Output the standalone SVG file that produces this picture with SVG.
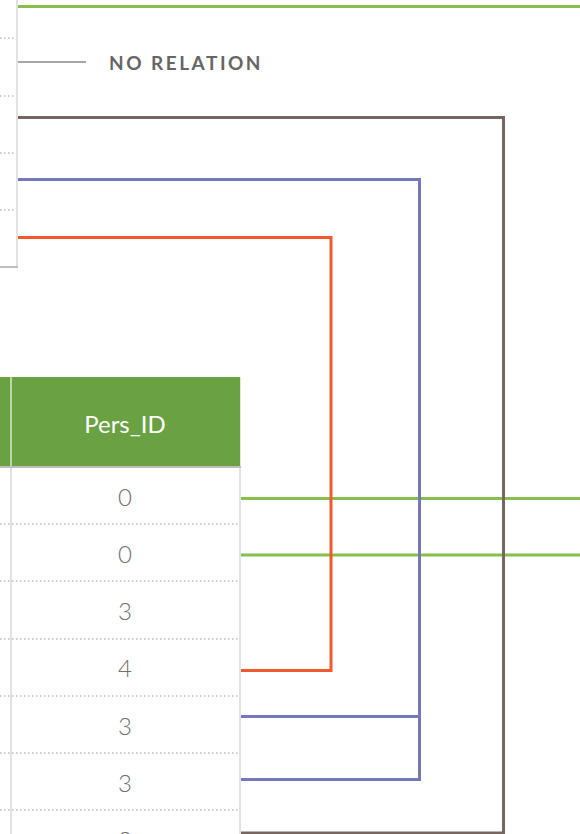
<svg xmlns="http://www.w3.org/2000/svg" width="580" height="834" viewBox="0 0 580 834">
  <style>
    .edge { fill: none; stroke: #e2e2e2; stroke-width: 2; }
    .rule { fill: none; stroke: #bdbdbd; stroke-width: 2; }
    .dots { fill: none; stroke: #9a9a9a; stroke-width: 1; stroke-dasharray: 1.5 2.5; }
    .cell { font-family: Lato, "Open Sans", sans-serif; font-size: 24px; font-weight: 300; fill: #707070; text-anchor: middle; }
    .head { font-family: Lato, "Open Sans", sans-serif; font-size: 24px; font-weight: 400; fill: #ffffff; text-anchor: middle; }
    .legend { font-family: Lato, "Open Sans", sans-serif; font-size: 19px; font-weight: 700; fill: #666666; letter-spacing: 2.5px; }
    .link { fill: none; stroke-width: 3; stroke-linejoin: miter; }
    .green { stroke: #86bf4a; }
    .brown { stroke: #76665f; }
    .blue { stroke: #7777bb; }
    .orange { stroke: #f05a2a; }
  </style>

  <!-- upper table (right edge only visible) -->
  <g id="table-top">
    <line class="edge" x1="17" y1="0" x2="17" y2="267"/>
    <line class="dots" x1="0" y1="38" x2="16" y2="38"/>
    <line class="dots" x1="0" y1="96" x2="16" y2="96"/>
    <line class="dots" x1="0" y1="153" x2="16" y2="153"/>
    <line class="dots" x1="0" y1="210" x2="16" y2="210"/>
    <line class="rule" x1="0" y1="267" x2="18" y2="267"/>
  </g>

  <!-- legend -->
  <g id="legend">
    <line x1="18" y1="62" x2="86" y2="62" stroke="#8a8a8a" stroke-width="1.5"/>
    <text class="legend" x="109" y="70">NO RELATION</text>
  </g>

  <!-- lower table: Pers_ID column -->
  <g id="table-bottom">
    <rect x="0" y="377" width="241" height="90" fill="#6aa142"/>
    <line x1="11" y1="377" x2="11" y2="467" stroke="#d8e8cc" stroke-width="1.5"/>
    <line x1="240.5" y1="377" x2="240.5" y2="467" stroke="#dfe9d6" stroke-width="1"/>
    <line class="rule" x1="0" y1="467" x2="241" y2="467"/>
    <line class="edge" x1="11" y1="468" x2="11" y2="834"/>
    <line class="edge" x1="240" y1="468" x2="240" y2="834"/>
    <text class="head" x="125" y="433">Pers_ID</text>
    <line class="dots" x1="0" y1="524" x2="239" y2="524"/>
    <line class="dots" x1="0" y1="581" x2="239" y2="581"/>
    <line class="dots" x1="0" y1="639" x2="239" y2="639"/>
    <line class="dots" x1="0" y1="696" x2="239" y2="696"/>
    <line class="dots" x1="0" y1="753" x2="239" y2="753"/>
    <line class="dots" x1="0" y1="810" x2="239" y2="810"/>
    <text class="cell" x="125" y="506">0</text>
    <text class="cell" x="125" y="563">0</text>
    <text class="cell" x="125" y="620">3</text>
    <text class="cell" x="125" y="677">4</text>
    <text class="cell" x="125" y="735">3</text>
    <text class="cell" x="125" y="792">3</text>
    <text class="cell" x="125" y="849">3</text>
  </g>

  <!-- relation connectors -->
  <g id="connectors">
    <line class="link green" x1="18" y1="6.5" x2="580" y2="6.5"/>
    <line class="link green" x1="241" y1="498.5" x2="580" y2="498.5"/>
    <line class="link green" x1="241" y1="555" x2="580" y2="555"/>
    <polyline class="link brown" points="18,117.5 503.5,117.5 503.5,834"/>
    <line class="link brown" x1="241" y1="833" x2="503.5" y2="833"/>
    <polyline class="link blue" points="18,179.5 419.5,179.5 419.5,779.5 241,779.5"/>
    <line class="link blue" x1="241" y1="716.5" x2="419.5" y2="716.5"/>
    <polyline class="link orange" points="18,237.5 331,237.5 331,670.5 241,670.5"/>
  </g>
</svg>
